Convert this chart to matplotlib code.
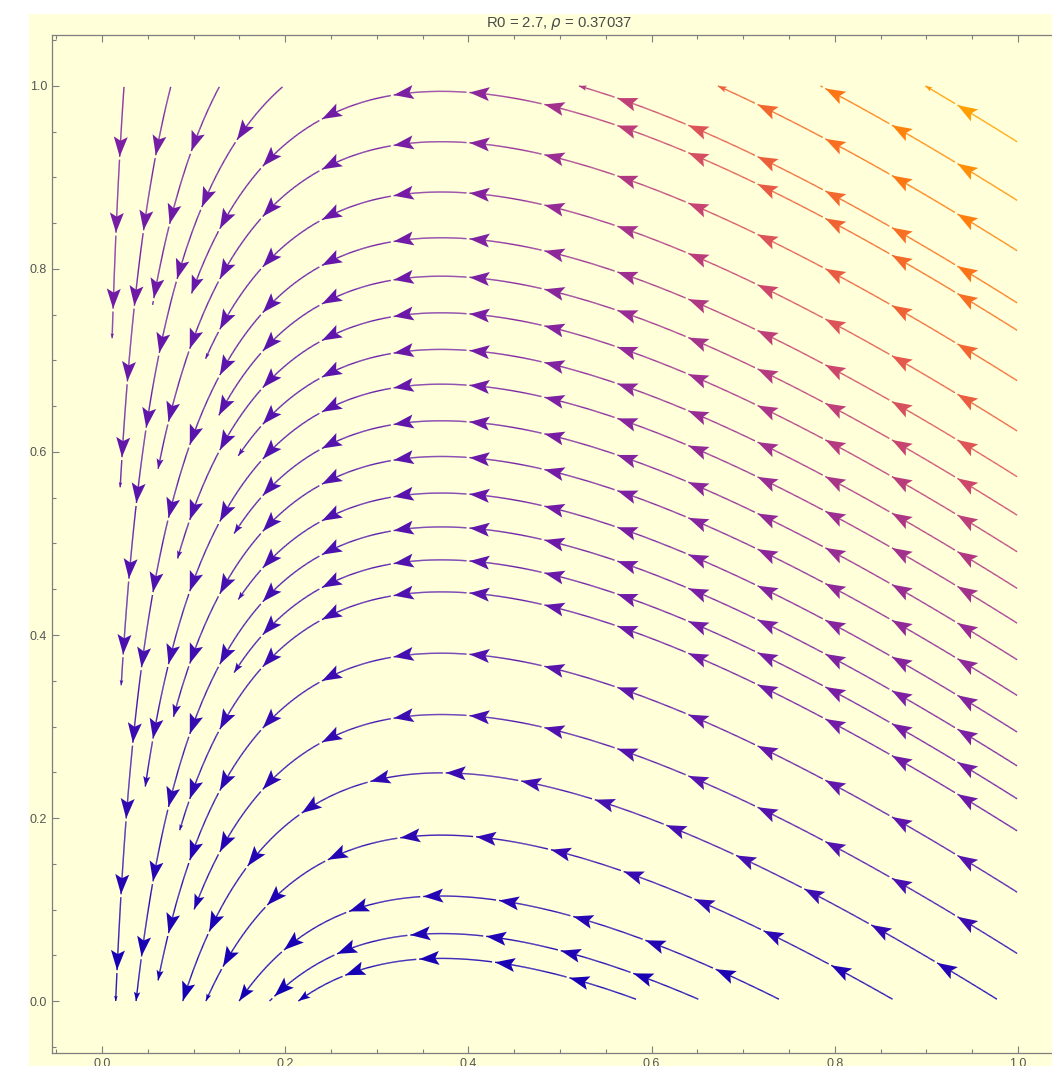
import numpy as np
import matplotlib
matplotlib.use("Agg")
import matplotlib.pyplot as plt
from matplotlib.colors import LinearSegmentedColormap, Normalize
from matplotlib.collections import LineCollection
from matplotlib.patches import Polygon, Rectangle, FancyArrowPatch
from matplotlib.ticker import MultipleLocator, FormatStrFormatter

# Параметри моделі SIR
R0 = 2.7
rho = 1 / R0

# Звідки починається кожна лінія потоку (x = S, y = I)
start_x = [0.999] * 20 + [0.024, 0.075, 0.128, 0.197] + [0.977, 0.863, 0.739, 0.651, 0.583]
start_y = [0.939, 0.875, 0.820, 0.763, 0.733, 0.678, 0.623, 0.573, 0.531, 0.491,
           0.451, 0.413, 0.373, 0.334, 0.294, 0.257, 0.221, 0.186, 0.119, 0.052] \
          + [0.999] * 4 + [0.002] * 5
# Де лінія обривається (nan -> йде до краю області)
nan = np.nan
end_x = [nan, nan, nan, nan, 0.0985, 0.0615, 0.114, nan, 0.132, 0.0844,
         0.1507, 0.0488, 0.1477, 0.0815, 0.150, nan, 0.145, 0.0888, 0.0633, 0.1015,
         0.0117, 0.0204, 0.057, 0.0215,
         nan, nan, nan, nan, nan]
end_y = [nan, nan, nan, nan, 0.771, 0.578, 0.699, nan, 0.642, 0.482,
         0.597, 0.2306, 0.513, 0.311, 0.435, nan, 0.356, 0.189, 0.019, 0.096,
         0.721, 0.564, 0.764, 0.347,
         nan, nan, nan, nan, nan]

title = "R0 = 2.7, $\\rho$ = 0.37037"

BG = "#ffffd9"
LW = 1.0
FIRST, STEP, GAP = 70.0, 76.0, 3.0      # у пікселях
HEAD_L, HEAD_W, NOTCH = 20.0, 7.0, 4.0

cmap = LinearSegmentedColormap.from_list("speed", [
    (0.0, "#1400b4"), (0.11, "#4a10b0"), (0.2, "#6a18a8"), (0.28, "#7d20a2"),
    (0.41, "#a03090"), (0.52, "#c84470"), (0.565, "#dc5458"), (0.63, "#ee6038"),
    (0.78, "#ff7a10"), (0.91, "#ffa000"), (1.0, "#ffb000")])

grid = np.linspace(0, 1, 201)
S, I = np.meshgrid(grid, grid)
U = -R0 * S * I
V = R0 * S * I - I
speed = np.hypot(U, V)
norm = Normalize(0, speed.max())

plt.rcParams['font.family'] = ['Liberation Sans', 'DejaVu Sans']
fig = plt.figure(figsize=(10.52, 10.66), dpi=100)
fig.patches.append(Rectangle((29 / 1052, 0), 1, 1 - 14 / 1066, transform=fig.transFigure,
                             facecolor=BG, edgecolor='none', zorder=-10))
ax = fig.add_axes([52 / 1052, 13 / 1066, 1016 / 1052, 1018 / 1066])
ax.set_facecolor(BG)
ax.set_xlim(-0.0546, 1.0546)
ax.set_ylim(-0.0568, 1.0557)

to_px = ax.transData.transform
to_data = ax.transData.inverted().transform


def head(tip, d, scale, color):
    n = np.array([-d[1], d[0]])
    L, w, k = HEAD_L * scale, HEAD_W * scale, NOTCH * scale
    verts = np.array([tip, tip - L * d + w * n, tip - (L - k) * d, tip - L * d - w * n])
    ax.add_patch(Polygon(to_data(verts), closed=True, facecolor=color,
                         edgecolor='none', zorder=3))


for x0, y0, x1, y1 in zip(start_x, start_y, end_x, end_y):
    sp = ax.streamplot(grid, grid, U, V, start_points=[[x0, y0]],
                       integration_direction='forward', broken_streamlines=False,
                       density=4, color=speed, cmap=cmap, norm=norm, linewidth=LW,
                       minlength=0, maxlength=10)
    # стандартні стрілки streamplot прибираємо, малюємо свої
    for p in list(ax.patches):
        if isinstance(p, FancyArrowPatch):
            p.remove()
    segs = sp.lines.get_segments()
    vals = np.asarray(sp.lines.get_array())
    sp.lines.remove()
    if len(segs) == 0:
        continue
    # streamplot відкидає саму стартову точку - повертаємо її
    pts = np.array([[x0, y0]] + [sg[0] for sg in segs] + [segs[-1][1]])
    vals = np.concatenate([[vals[0]], vals])
    if not np.isnan(x1):
        k = np.argmin(np.hypot(pts[:, 0] - x1, pts[:, 1] - y1))
        pts, vals = pts[:k + 1], vals[:k]
    px = to_px(pts)
    cum = np.concatenate([[0], np.cumsum(np.hypot(*np.diff(px, axis=0).T))])
    total = cum[-1]
    # перевибірка з кроком 1 px, щоб робити проміжки після стрілок
    s = np.append(np.arange(0, total, 1.0), total)
    rx = np.interp(s, cum, px[:, 0])
    ry = np.interp(s, cum, px[:, 1])
    mids = (cum[:-1] + cum[1:]) / 2
    sm = (s[:-1] + s[1:]) / 2
    rv = np.interp(sm, mids, vals)
    tips = np.arange(FIRST, total - 4, STEP)
    keep = np.ones(len(sm), bool)
    for t in tips:
        keep &= ~((sm > t) & (sm < t + GAP))
    rp = to_data(np.column_stack([rx, ry]))
    lines = np.stack([rp[:-1], rp[1:]], axis=1)[keep]
    lc = LineCollection(lines, cmap=cmap, norm=norm, linewidths=LW, zorder=2)
    lc.set_array(rv[keep])
    ax.add_collection(lc)

    def at(t):
        p = np.array([np.interp(t, cum, px[:, 0]), np.interp(t, cum, px[:, 1])])
        q = np.array([np.interp(t - 3, cum, px[:, 0]), np.interp(t - 3, cum, px[:, 1])])
        d = p - q
        return p, d / np.hypot(*d), np.interp(t, mids, vals)

    for t in tips:
        p, d, v = at(t)
        head(p, d, 1.0, cmap(norm(v)))
    rest = total - (tips[-1] if len(tips) else 0)
    if rest > 4:
        p, d, v = at(total)
        head(p, d, min(1.0, rest / STEP) ** 1.5, cmap(norm(v)))

# Оформлення осей
for spine in ax.spines.values():
    spine.set_color('#7f7f7f')
    spine.set_linewidth(0.9)
ax.xaxis.set_major_locator(MultipleLocator(0.2))
ax.xaxis.set_minor_locator(MultipleLocator(0.05))
ax.yaxis.set_major_locator(MultipleLocator(0.2))
ax.yaxis.set_minor_locator(MultipleLocator(0.05))
ax.xaxis.set_major_formatter(FormatStrFormatter('%.1f'))
ax.yaxis.set_major_formatter(FormatStrFormatter('%.1f'))
ax.tick_params(which='both', direction='in', color='#7f7f7f', labelcolor='#555555',
               labelsize=9, top=True, right=True, width=0.8)
ax.tick_params(which='major', length=5)
ax.tick_params(which='minor', length=3)

fig.text(559 / 1052, 1 - 24 / 1066, title, ha='center', va='center',
         fontsize=10.7, color='#4a4a4a')

fig.savefig("out.png", dpi=100, facecolor='white')
